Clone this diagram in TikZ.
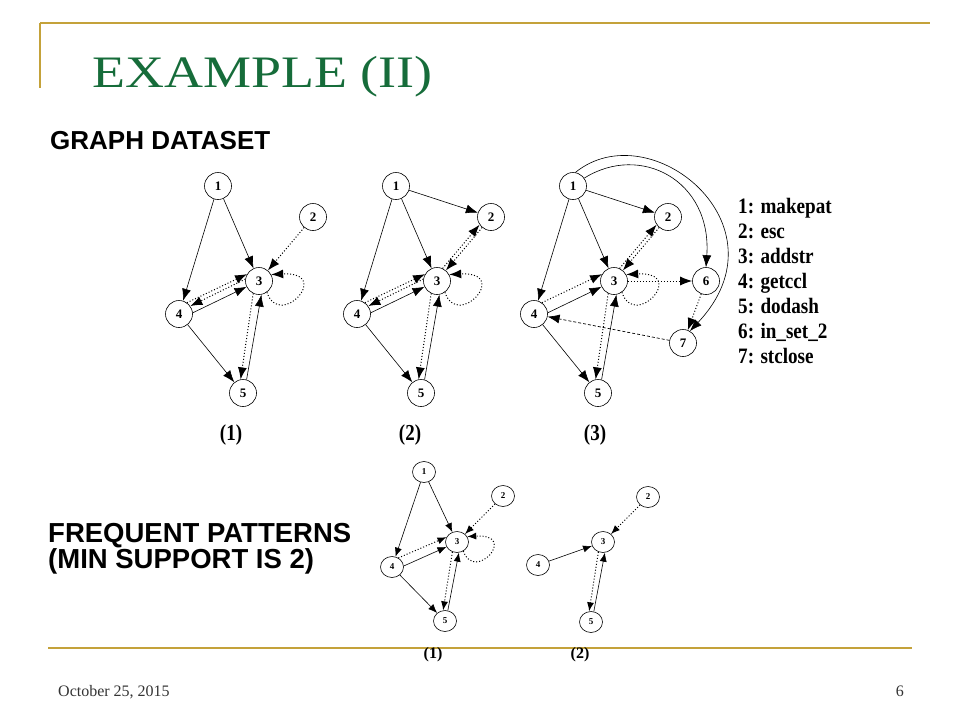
\documentclass[tikz,border=0pt]{standalone}
\usepackage{fontspec}
\setmainfont{Liberation Serif}
\setsansfont{Liberation Sans}
\usetikzlibrary{arrows.meta, shapes.geometric}
\definecolor{slidegold}{RGB}{196,162,58}
\definecolor{slidegreen}{RGB}{22,108,58}

\begin{document}
\begin{tikzpicture}[x=1pt, y=-1pt, >={Latex[length=12pt,width=9pt]},
    vtx/.style={circle, draw, line width=0.6pt, minimum size=27pt, inner sep=0pt, font=\fontsize{13}{13}\selectfont\bfseries},
    pvtx/.style={ellipse, draw, line width=0.6pt, minimum width=23pt, minimum height=21pt, inner sep=0pt, font=\fontsize{9}{9}\selectfont\bfseries},
    sol/.style={->, line width=0.6pt},
    dot/.style={->, line width=1pt, dash pattern=on 1pt off 2pt},
    dsh/.style={->, line width=0.7pt, dash pattern=on 3pt off 2pt},
    glab/.style={inner sep=0pt, yscale=1.2, font=\fontsize{19}{19}\selectfont\bfseries},
    head/.style={anchor=base west, inner sep=0pt, font=\sffamily\bfseries\fontsize{26}{26}\selectfont}]
    \useasboundingbox (0,0) rectangle (960,720);

    \draw[slidegold, line width=2pt] (40,23) -- (930,23);
    \draw[slidegold, line width=1.7pt] (40,23) -- (40,88);
    \node[anchor=base west, inner sep=0pt, xscale=1.2, text=slidegreen, font=\fontsize{45}{45}\selectfont] (title) at (92,87) {EXAMPLE (II)};
    \node[head] (gd) at (50,149) {GRAPH DATASET};

    \foreach \g/\dx/\n/\lx in {a/0/1/231, b/178/2/410, c/355/3/595} {
        \node[vtx] (\g1) at (218+\dx,186) {1};
        \node[vtx] (\g2) at (313+\dx,217) {2};
        \node[vtx] (\g3) at (259+\dx,281) {3};
        \node[vtx] (\g4) at (179+\dx,314) {4};
        \node[vtx] (\g5) at (243+\dx,393) {5};
        \node[glab] (lab\g) at (\lx,435) {(\n)};
        \draw[sol] (\g1) -- (\g4);
        \draw[sol] (\g1) -- (\g3);
        \draw[dot] (\g2) -- (\g3);
        \draw[dot] (\g3.-55) .. controls +(13,38) and +(62,-3) .. (\g3.28);
        \draw[dot] (\g4.55) -- (\g3.150);
        \draw[sol] (\g4.5) -- (\g3.205);
        \draw[sol] (\g4) -- (\g5);
        \draw[dot] (\g3.245) -- (\g5.100);
        \draw[sol] (\g5.75) -- (\g3.280);
    }
    \foreach \g in {a,b}
        \draw[dot] (\g3.172) -- (\g4.35);
    \foreach \g in {b,c} {
        \draw[sol] (\g1) -- (\g2);
        \draw[dot] (\g3.66) -- (\g2.214);
    }

    \node[vtx] (c6) at (706,281) {6};
    \node[vtx] (c7) at (683,343) {7};
    \draw[sol] (c1.35) .. controls (640,143) and (712,180) .. (c6.north);
    \draw[sol] (c1.80) .. controls (650,112) and (790,225) .. (c7.60);
    \draw[dot] (c3) -- (c6);
    \draw[dot] (c6) -- (c7);
    \draw[dsh] (c7) -- (c4);

    \foreach \i/\fn in {1/makepat, 2/esc, 3/addstr, 4/getccl, 5/dodash, 6/in\_set\_2, 7/stclose}
        \node[anchor=base west, inner sep=0pt, xscale=0.87, font=\fontsize{22}{22}\selectfont\bfseries] (leg\i) at (738,{213+25*(\i-1)}) {\i: \fn};

    \node[head, font=\sffamily\bfseries\fontsize{27.5}{27.5}\selectfont] (fp1) at (48,542) {FREQUENT PATTERNS};
    \node[head, font=\sffamily\bfseries\fontsize{27.5}{27.5}\selectfont] (fp2) at (48,568) {(MIN SUPPORT IS 2)};

    \draw[slidegold, line width=2.5pt] (48,648) -- (912,648);

    \begin{scope}[>={Latex[length=9pt,width=7pt]}]
        \node[pvtx] (p1) at (424,472) {1};
        \node[pvtx] (p2) at (503,496) {2};
        \node[pvtx] (p3) at (457,542) {3};
        \node[pvtx] (p4) at (392,567) {4};
        \node[pvtx] (p5) at (445,621) {5};
        \draw[sol] (p1) -- (p4);
        \draw[sol] (p1) -- (p3);
        \draw[dot] (p2) -- (p3);
        \draw[dot] (p3.-55) .. controls +(11,32) and +(52,-3) .. (p3.28);
        \draw[dot] (p4.55) -- (p3.155);
        \draw[sol] (p4.5) -- (p3.205);
        \draw[sol] (p4) -- (p5);
        \draw[dot] (p3.245) -- (p5.100);
        \draw[sol] (p5.75) -- (p3.280);

        \node[pvtx] (q2) at (648,497) {2};
        \node[pvtx] (q3) at (603,542) {3};
        \node[pvtx] (q4) at (538,565) {4};
        \node[pvtx] (q5) at (591,622) {5};
        \draw[dot] (q2) -- (q3);
        \draw[sol] (q4) -- (q3);
        \draw[dot] (q3.245) -- (q5.100);
        \draw[sol] (q5.75) -- (q3.280);
    \end{scope}
    \node[inner sep=0pt, font=\fontsize{16}{16}\selectfont\bfseries] (labp) at (433,655) {(1)};
    \node[inner sep=0pt, font=\fontsize{16}{16}\selectfont\bfseries] (labq) at (580,655) {(2)};

    \node[anchor=base west, inner sep=0pt, text=black!80, font=\fontsize{16}{16}\selectfont] (date) at (58,696) {October 25, 2015};
    \node[anchor=base east, inner sep=0pt, text=black!80, font=\fontsize{16}{16}\selectfont] (page) at (904,696) {6};
\end{tikzpicture}
\end{document}
